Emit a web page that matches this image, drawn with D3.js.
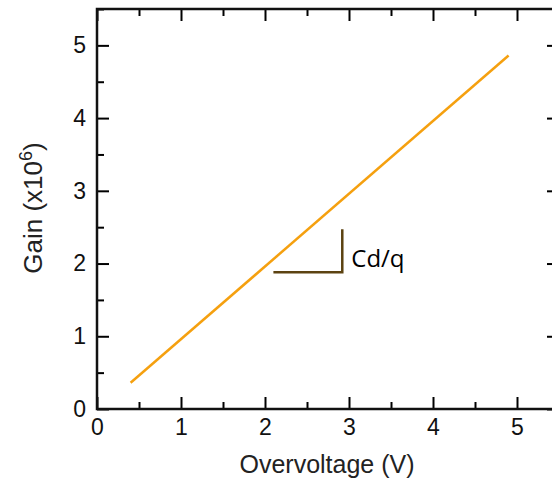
<!DOCTYPE html>
<html><head><meta charset="utf-8">
<script src="https://cdn.jsdelivr.net/npm/d3@7"></script>
<style>body{margin:0;background:#fff}svg{display:block}</style>
</head><body>
<svg id="c" width="552" height="483"></svg>
<script>
const lineX = [0.4, 4.9];
const lineY = [0.36, 4.86];
const majorTicks = [0, 1, 2, 3, 4, 5];
const minorTicks = [0.5, 1.5, 2.5, 3.5, 4.5, 5.5];
const slopeX = [2.1, 2.92];
const slopeY = [1.88, 2.47];
const slopeLabel = "Cd/q";

const svg = d3.select("#c");
const L = 97, T = 9, B = 409;
const x = d3.scaleLinear().domain([0, 5.5]).range([L, L + 5.5 * 84]);
const y = d3.scaleLinear().domain([0, 5.5]).range([B, T]);
const font = "Liberation Sans, Arial, sans-serif";

function styleAxis(g, hideLabels) {
  g.select(".domain").remove();
  g.selectAll("line").attr("stroke", "#000").attr("stroke-width", 2);
  g.selectAll("text").attr("font-family", font).attr("font-size", 23).attr("fill", "#111");
  if (hideLabels) g.selectAll("text").remove();
}
// bottom
svg.append("g").attr("transform", `translate(0,${B})`)
  .call(d3.axisBottom(x).tickValues(majorTicks).tickSize(-12).tickPadding(10).tickFormat(d3.format("d")))
  .call(g => styleAxis(g));
svg.append("g").attr("transform", `translate(0,${B})`)
  .call(d3.axisBottom(x).tickValues(minorTicks).tickSize(-7).tickFormat(""))
  .call(g => styleAxis(g, true));
// top
svg.append("g").attr("transform", `translate(0,${T})`)
  .call(d3.axisTop(x).tickValues(majorTicks).tickSize(-12).tickFormat(""))
  .call(g => styleAxis(g, true));
svg.append("g").attr("transform", `translate(0,${T})`)
  .call(d3.axisTop(x).tickValues(minorTicks).tickSize(-7).tickFormat(""))
  .call(g => styleAxis(g, true));
// left
svg.append("g").attr("transform", `translate(${L},0)`)
  .call(d3.axisLeft(y).tickValues(majorTicks).tickSize(-12).tickPadding(11).tickFormat(d3.format("d")))
  .call(g => styleAxis(g));
svg.append("g").attr("transform", `translate(${L},0)`)
  .call(d3.axisLeft(y).tickValues(minorTicks).tickSize(-7).tickFormat(""))
  .call(g => styleAxis(g, true));
// right
const R = x(5.5);
svg.append("g").attr("transform", `translate(${R},0)`)
  .call(d3.axisRight(y).tickValues(majorTicks).tickSize(-12).tickFormat(""))
  .call(g => styleAxis(g, true));
svg.append("g").attr("transform", `translate(${R},0)`)
  .call(d3.axisRight(y).tickValues(minorTicks).tickSize(-7).tickFormat(""))
  .call(g => styleAxis(g, true));

// frame
svg.append("rect").attr("x", L).attr("y", T).attr("width", R - L).attr("height", B - T)
  .attr("fill", "none").attr("stroke", "#111").attr("stroke-width", 2.5);

// data line
const pts = lineX.map((v, i) => [v, lineY[i]]);
svg.append("path").datum(pts)
  .attr("d", d3.line().x(d => x(d[0])).y(d => y(d[1])))
  .attr("fill", "none").attr("stroke", "#f5a00f").attr("stroke-width", 2.5);

// slope triangle
svg.append("path")
  .attr("d", d3.line()([[x(slopeX[0]), y(slopeY[0])], [x(slopeX[1]), y(slopeY[0])], [x(slopeX[1]), y(slopeY[1])]]))
  .attr("fill", "none").attr("stroke", "#5c4311").attr("stroke-width", 2.5);
svg.append("text").attr("x", x(slopeX[1]) + 9).attr("y", 267)
  .attr("font-family", "Open Sans, sans-serif").attr("font-size", 24).attr("fill", "#000")
  .text(slopeLabel);

// axis titles
svg.append("text").attr("x", 327).attr("y", 473).attr("text-anchor", "middle")
  .attr("font-family", font).attr("font-size", 25).attr("fill", "#222").text("Overvoltage (V)");
const yt = svg.append("text").attr("transform", "translate(42,208) rotate(-90)").attr("text-anchor", "middle")
  .attr("font-family", font).attr("font-size", 26).attr("fill", "#222");
yt.append("tspan").text("Gain (x10");
yt.append("tspan").attr("dy", -10).attr("font-size", 18).text("6");
yt.append("tspan").attr("dy", 10).text(")");
</script>
</body></html>
